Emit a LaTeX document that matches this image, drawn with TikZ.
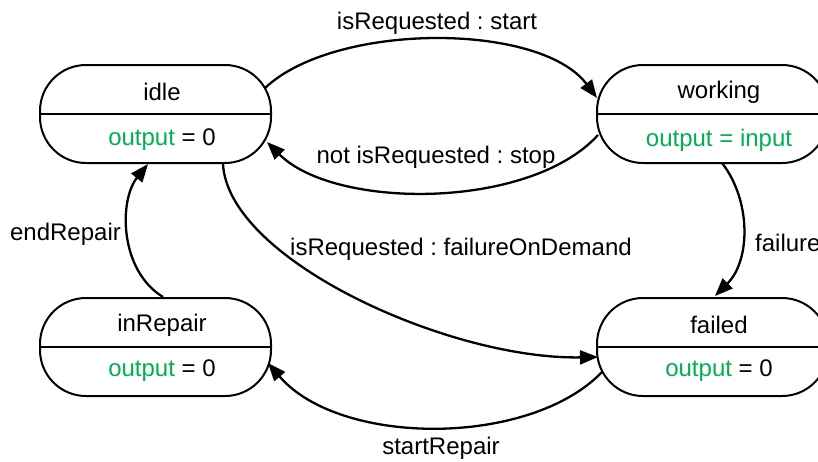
\documentclass[tikz,border=0pt]{standalone}
\usepackage{fontspec}
\setmainfont{Liberation Sans}
\usetikzlibrary{arrows.meta}
\definecolor{outgreen}{RGB}{0,176,80}
\frenchspacing
\tikzset{
  statebox/.style={draw=black, line width=2pt, rounded corners=46pt, minimum width=231pt, minimum height=98pt, inner sep=0pt},
  divider/.style={line width=1.8pt},
  txt/.style={font=\fontsize{24}{28}\selectfont\frenchspacing, inner sep=0pt, text=black},
  edge/.style={line width=2.3pt, -{Triangle[length=18pt,width=14pt]}},
}
\begin{document}
\begin{tikzpicture}[x=1pt,y=-1pt]
\useasboundingbox (0,0) rectangle (818,461);
\clip (0,0) rectangle (818,461);
% states
\node[statebox] (idle) at (155.5,114) {};
\node[statebox] (working) at (712.5,114) {};
\node[statebox] (inRepair) at (155.5,347) {};
\node[statebox] (failed) at (712.5,347) {};
\foreach \s in {idle,working,inRepair,failed}{
  \draw[divider] (\s.west) -- (\s.east);
}
% titles and outputs
\node[txt] (idleT) at ([shift={(6.5,-22)}]idle.center) {idle};
\node[txt] (idleO) at ([shift={(6.5,26)}]idle.center) {{\color{outgreen}output} = 0};
\node[txt] (workingT) at ([shift={(6.5,-22)}]working.center) {working};
\node[txt] (workingO) at ([shift={(6.5,26)}]working.center) {{\color{outgreen}output = input}};
\node[txt] (inRepairT) at ([shift={(6.5,-22)}]inRepair.center) {inRepair};
\node[txt] (inRepairO) at ([shift={(6.5,24)}]inRepair.center) {{\color{outgreen}output} = 0};
\node[txt] (failedT) at ([shift={(6.5,-22)}]failed.center) {failed};
\node[txt] (failedO) at ([shift={(6.5,24)}]failed.center) {{\color{outgreen}output} = 0};
% transitions
\draw[edge] ([shift={(109.5,-26)}]idle.center) .. controls (335,22) and (540,22) .. ([shift={(-115.5,-16)}]working.center);
\draw[edge] ([shift={(-114.5,21)}]working.center) .. controls (530,210) and (335,210) .. ([shift={(111.5,28)}]idle.center);
\draw[edge] ([shift={(67.5,50)}]idle.center) .. controls (228,260) and (450,360) .. ([shift={(-114.5,10)}]failed.center);
\draw[edge] ([shift={(-110.5,25)}]failed.center) .. controls (530,447) and (340,447) .. ([shift={(112.5,16)}]inRepair.center);
\draw[edge] ([shift={(9.5,49)}]working.center) .. controls (751,200) and (751,260) .. ([shift={(2.5,-51)}]failed.center);
\draw[edge] ([shift={(7.5,-50)}]inRepair.center) .. controls (119,270) and (119,200) .. ([shift={(-7.5,50)}]idle.center);
% labels
\node[txt] (l1) at (437,23) {isRequested : start};
\node[txt] (l2) at (436,157) {not isRequested : stop};
\node[txt] (l3) at (461,249) {isRequested : failureOnDemand};
\node[txt] (l4) at (441,448) {startRepair};
\node[txt, anchor=west] (l5) at (755,243) {failure};
\node[txt] (l6) at (65.5,234) {endRepair};
\end{tikzpicture}
\end{document}
